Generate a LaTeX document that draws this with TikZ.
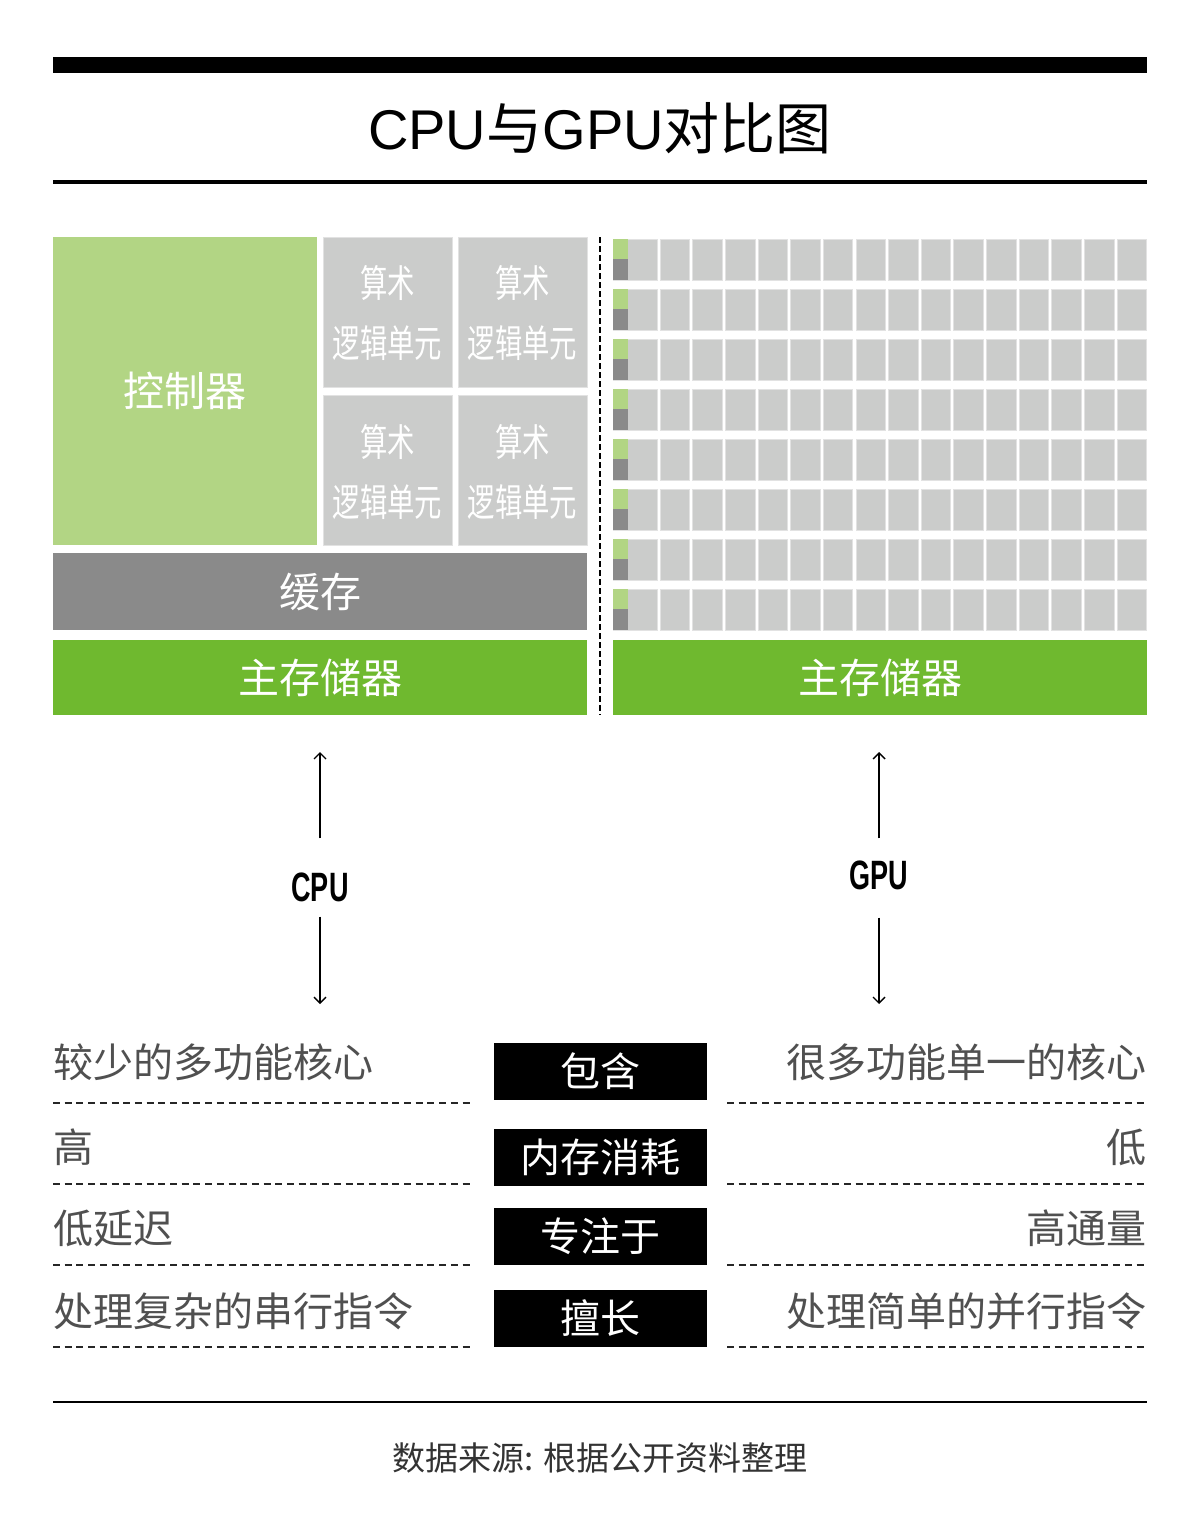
\documentclass[tikz,border=0pt]{standalone}
\usepackage{fontspec}
\usepackage{graphicx}
\setmainfont{Liberation Sans}
\newfontfamily\cjk{Noto Sans CJK SC}
\usetikzlibrary{arrows.meta}
\definecolor{ctrlgreen}{HTML}{B2D584}
\definecolor{cellgray}{HTML}{CBCCCB}
\definecolor{cellborder}{HTML}{E2E2E2}
\definecolor{cachegray}{HTML}{8A8A8A}
\definecolor{memgreen}{HTML}{6FB92F}
\definecolor{txtgray}{HTML}{505050}
\definecolor{foot}{HTML}{333333}
\begin{document}
\begin{tikzpicture}[x=1pt,y=-1pt,
  blk/.style={rectangle,inner sep=0pt,outer sep=0pt,text=white},
  alu/.style={blk,fill=cellgray,draw=cellborder,line width=1pt,minimum width=129pt,minimum height=150pt},
  alutxt/.style={inner sep=0pt,text=white,font=\cjk\fontsize{38}{40}\selectfont},
  bigtxt/.style={font=\cjk\fontsize{41}{44}\selectfont},
  cmp/.style={inner sep=0pt,text=txtgray,font=\cjk\fontsize{40}{44}\selectfont},
  tag/.style={rectangle,fill=black,text=white,inner sep=0pt,minimum width=213pt,minimum height=57pt,font=\cjk\fontsize{40}{44}\selectfont},
  dline/.style={line width=1.4pt,dash pattern=on 7pt off 4.7pt,black!85},
  arr/.style={line width=1.4pt,-{Straight Barb[length=6pt,width=12pt]}},
  gcell/.style={fill=cellgray,draw=cellborder,line width=0.8pt},
  lbl/.style={inner sep=0pt,font=\fontsize{41}{44}\selectfont\bfseries}]
\useasboundingbox (0,0) rectangle (1200,1525);
\fill[white] (0,0) rectangle (1200,1525);
% header
\fill[black] (53,57) rectangle (1147,73);
\node[inner sep=0pt,font=\fontsize{56}{60}\selectfont] (title) at (600,128) {CPU{\cjk 与}GPU{\cjk 对比图}};
\draw[line width=3.5pt] (53,182) -- (1147,182);
% CPU block
\node[blk,fill=ctrlgreen,minimum width=264pt,minimum height=308pt,bigtxt] (ctrl) at (185,391) {控制器};
\node[alu] (alu1) at (387.5,312) {};
\node[alu] (alu2) at (522.5,312) {};
\node[alu] (alu3) at (387.5,470.5) {};
\node[alu] (alu4) at (522.5,470.5) {};
\foreach \n/\x/\y in {a/387.5/283,b/522.5/283,c/387.5/442,d/522.5/442}{
  \node[alutxt] (s\n) at (\x,\y) {\scalebox{0.72}[1]{算术}};
  \node[alutxt] (t\n) at (\x,\y+60) {\scalebox{0.72}[1]{逻辑单元}};
}
\node[blk,fill=cachegray,minimum width=534pt,minimum height=77pt,bigtxt] (cache) at (320,591.5) {缓存};
\node[blk,fill=memgreen,minimum width=534pt,minimum height=75pt,bigtxt] (cmem) at (320,677.5) {主存储器};
% divider
\draw[line width=2pt,dash pattern=on 6pt off 3pt] (600,237) -- (600,715);
% GPU grid
\foreach \r in {0,...,7}{
  \pgfmathsetmacro{\ya}{239+50*\r}
  \pgfmathsetmacro{\yb}{\ya+41}
  \pgfmathsetmacro{\ym}{\ya+20}
  \filldraw[gcell] (613,\ya) rectangle (657,\yb);
  \fill[ctrlgreen] (613,\ya) rectangle (628,\ym);
  \fill[cachegray] (613,\ym) rectangle (628,\yb);
  \foreach \c in {0,...,14}{
    \pgfmathsetmacro{\xa}{660+32.65*\c}
    \pgfmathsetmacro{\xb}{\xa+29.6}
    \filldraw[gcell] (\xa,\ya) rectangle (\xb,\yb);
  }
}
\node[blk,fill=memgreen,minimum width=534pt,minimum height=75pt,bigtxt] (gmem) at (880,677.5) {主存储器};
% CPU / GPU labels and arrows
\node[lbl] (cpulbl) at (320,887) {\scalebox{0.66}[1]{CPU}};
\node[lbl] (gpulbl) at (879,875) {\scalebox{0.66}[1]{GPU}};
\coordinate (cputop) at (320,752);
\coordinate (cpubot) at (320,1004);
\coordinate (gputop) at (879,752);
\coordinate (gpubot) at (879,1004);
\draw[arr] ([yshift=34pt]cpulbl.north) -- (cputop);
\draw[arr] ([yshift=-15pt]cpulbl.south) -- (cpubot);
\draw[arr] ([yshift=22pt]gpulbl.north) -- (gputop);
\draw[arr] ([yshift=-28pt]gpulbl.south) -- (gpubot);
% comparison rows
\node[tag] (m1) at (600,1071.5) {包含};
\node[tag] (m2) at (600,1157.5) {内存消耗};
\node[tag] (m3) at (600,1236.5) {专注于};
\node[tag] (m4) at (600,1318) {擅长};
\node[cmp,anchor=west] (l1) at (53,1062) {较少的多功能核心};
\node[cmp,anchor=west] (l2) at (53,1147) {高};
\node[cmp,anchor=west] (l3) at (53,1228) {低延迟};
\node[cmp,anchor=west] (l4) at (53,1311) {处理复杂的串行指令};
\node[cmp,anchor=east] (r1) at (1147,1062) {很多功能单一的核心};
\node[cmp,anchor=east] (r2) at (1147,1147) {低};
\node[cmp,anchor=east] (r3) at (1147,1228) {高通量};
\node[cmp,anchor=east] (r4) at (1147,1311) {处理简单的并行指令};
\foreach \y in {1103,1184,1265,1347}{
  \draw[dline] (53,\y) -- (473,\y);
  \draw[dline] (727,\y) -- (1147,\y);
}
% footer
\draw[line width=2pt] (53,1402) -- (1147,1402);
\node[inner sep=0pt,text=foot,font=\cjk\fontsize{33}{36}\selectfont] (src) at (600,1458) {数据来源: 根据公开资料整理};
\end{tikzpicture}
\end{document}
